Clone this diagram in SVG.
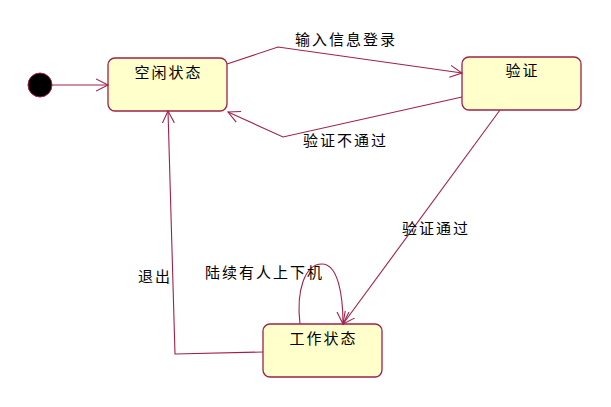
<svg xmlns="http://www.w3.org/2000/svg" width="611" height="407" viewBox="0 0 611 407">
<style>
.node rect{fill:#FFFFCC;stroke:#A0204A;stroke-width:1.3}
.lbl{font-family:"Noto Sans CJK SC","Liberation Sans",sans-serif;font-size:15px;letter-spacing:2px;fill:#000}
.edge{fill:none;stroke:#A0204A;stroke-width:1.1}
</style>
<defs>
<marker id="arr" markerWidth="14" markerHeight="14" refX="12" refY="7" orient="auto" markerUnits="userSpaceOnUse">
<path d="M0,1 L12,7 L0,13" fill="none" stroke="#A0204A" stroke-width="1.1"/>
</marker>
</defs>
<g id="initial"><circle cx="40" cy="85" r="12" fill="#000" stroke="#A0204A" stroke-width="1"/></g>
<g id="idle" class="node"><rect x="108" y="58" width="119" height="53" rx="7"/><text class="lbl" x="168.5" y="78" text-anchor="middle">空闲状态</text></g>
<g id="verify" class="node"><rect x="462" y="57" width="119" height="53" rx="7"/><text class="lbl" x="522.5" y="76" text-anchor="middle">验证</text></g>
<g id="work" class="node"><rect x="263" y="324" width="119" height="53" rx="7"/><text class="lbl" x="323.5" y="344" text-anchor="middle">工作状态</text></g>
<g id="connectors">
<path class="edge" d="M52,85 L108,85" marker-end="url(#arr)"/>
<path class="edge" d="M227,64 L278,47 L462,73" marker-end="url(#arr)"/>
<path class="edge" d="M462,97 L283,137 L228,112" marker-end="url(#arr)"/>
<path class="edge" d="M500,110 L343,324" marker-end="url(#arr)"/>
<path class="edge" d="M300,324 C296,290 305,264 322,264 C338,264 343,295 343,324" marker-end="url(#arr)"/>
<path class="edge" d="M263,352 L175,354 L168,111" marker-end="url(#arr)"/>
</g>
<g id="labels">
<text class="lbl" x="295" y="45">输入信息登录</text>
<text class="lbl" x="303" y="146">验证不通过</text>
<text class="lbl" x="402" y="234">验证通过</text>
<text class="lbl" x="205" y="278">陆续有人上下机</text>
<text class="lbl" x="138" y="282">退出</text>
</g>
</svg>
